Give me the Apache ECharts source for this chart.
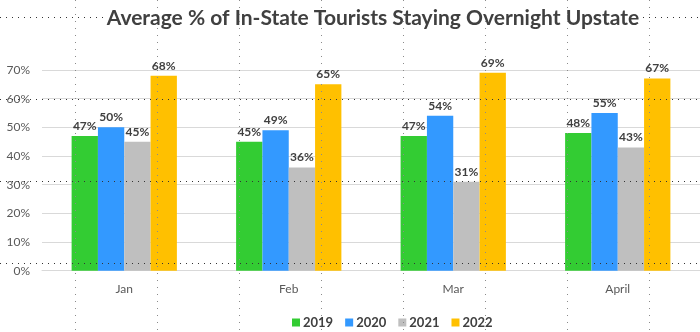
<!DOCTYPE html>
<html>
<head>
<meta charset="utf-8">
<script src="https://cdn.jsdelivr.net/npm/echarts@6/dist/echarts.min.js"></script>
<style>
  html, body { margin: 0; padding: 0; background: #fff; }
  #chart { width: 700px; height: 332px; }
</style>
</head>
<body>
<div id="chart"></div>
<script>
// Monthly share of in-state tourists staying overnight upstate, by year
const months = ['Jan', 'Feb', 'Mar', 'April'];
const years = ['2019', '2020', '2021', '2022'];
const share2019 = [47, 45, 47, 48];
const share2020 = [50, 49, 54, 55];
const share2021 = [45, 36, 31, 43];
const share2022 = [68, 65, 69, 67];
const yTicks = [0, 10, 20, 30, 40, 50, 60, 70];

const seriesValues = [share2019, share2020, share2021, share2022];
const colors = ['#33cc33', '#3399ff', '#bfbfbf', '#ffc000'];
const FONT = 'Lato, "Open Sans", sans-serif';

const chart = echarts.init(document.getElementById('chart'), null, { renderer: 'canvas' });

// Dotted guide lines drawn over the whole canvas
const dotted = [];
const vx = [75, 157, 239, 321, 403, 485, 567, 649];
vx.forEach(x => dotted.push({
  type: 'line', z: 100, silent: true,
  shape: { x1: x + 0.5, y1: 0, x2: x + 0.5, y2: 332 },
  style: { stroke: '#8a8a8a', lineWidth: 1, lineDash: [1, 6] }
}));
const hy = [99, 181, 263];
hy.forEach(y => dotted.push({
  type: 'line', z: 100, silent: true,
  shape: { x1: 0, y1: y + 0.5, x2: 700, y2: y + 0.5 },
  style: { stroke: '#333', lineWidth: 1, lineDash: [1, 5] }
}));
[[0, 103], [643, 700]].forEach(seg => dotted.push({
  type: 'line', z: 100, silent: true,
  shape: { x1: seg[0], y1: 17.5, x2: seg[1], y2: 17.5 },
  style: { stroke: '#333', lineWidth: 1, lineDash: [1, 5] }
}));

chart.setOption({
  animation: false,
  backgroundColor: '#fff',
  title: {
    text: 'Average % of In-State Tourists Staying Overnight Upstate',
    left: 368,
    top: 3,
    textAlign: 'center',
    textStyle: { fontFamily: FONT, fontSize: 21, fontWeight: 'bold', color: '#404040' }
  },
  legend: {
    data: years,
    left: 287,
    top: 311,
    itemWidth: 8,
    itemHeight: 8,
    itemGap: 12,
    icon: 'rect',
    textStyle: { fontFamily: FONT, fontSize: 13, fontWeight: 'bold', color: '#404040', padding: [0, 0, 0, -2] }
  },
  grid: { left: 42, top: 70, width: 665, height: 200.7, containLabel: false },
  xAxis: {
    type: 'category',
    data: months,
    axisLine: { show: true, lineStyle: { color: '#d9d9d9', width: 1 } },
    axisTick: { show: false },
    axisLabel: { fontFamily: FONT, fontSize: 12, color: '#595959', margin: 12 }
  },
  yAxis: {
    type: 'value',
    min: yTicks[0],
    max: yTicks[yTicks.length - 1],
    interval: yTicks[1] - yTicks[0],
    axisLine: { show: false },
    axisTick: { show: false },
    splitLine: { lineStyle: { color: '#d9d9d9', width: 1 } },
    axisLabel: { fontFamily: FONT, fontSize: 12, color: '#595959', margin: 12, formatter: v => v + '%' }
  },
  series: years.map((y, i) => ({
    name: y,
    type: 'bar',
    data: seriesValues[i],
    barGap: '0%',
    barCategoryGap: '36%',
    itemStyle: { color: colors[i] },
    label: {
      show: true,
      position: 'top',
      distance: 4,
      fontFamily: FONT,
      fontSize: 12,
      fontWeight: 'bold',
      color: '#404040',
      formatter: p => p.value + '%'
    }
  })),
  graphic: dotted
});
</script>
</body>
</html>
